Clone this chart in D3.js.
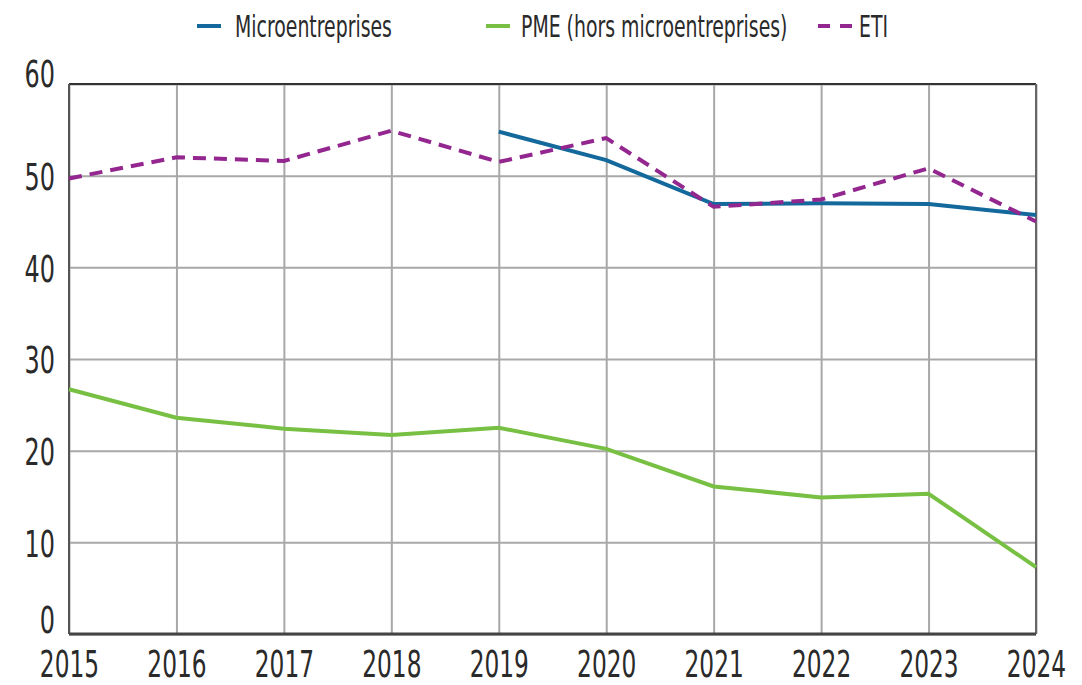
<!DOCTYPE html>
<html lang="fr">
<head>
  <meta charset="UTF-8">
  <title>Graphique</title>
  <script src="https://cdn.jsdelivr.net/npm/d3@7"></script>
  <style>
    body { margin: 0; background: #fff; }
    text { font-family: "DejaVu Sans Condensed", "Liberation Sans Narrow", sans-serif; fill: #2a2a2a; }
  </style>
</head>
<body>
  <div class="canvas"></div>
  <script>
    const years = [2015, 2016, 2017, 2018, 2019, 2020, 2021, 2022, 2023, 2024];
    const yTicks = [0, 10, 20, 30, 40, 50, 60];

    // null = pas de donnée
    const micro = [null, null, null, null, 54.8, 51.7, 46.9, 47.0, 46.9, 45.7];
    const pme = [26.7, 23.6, 22.4, 21.7, 22.5, 20.2, 16.1, 14.9, 15.3, 7.3];
    const eti = [49.7, 52.0, 51.6, 54.9, 51.5, 54.1, 46.6, 47.4, 50.8, 45.0];

    const seriesNames = ['Microentreprises', 'PME (hors microentreprises)', 'ETI'];

    const W = 1082, H = 685;
    const margin = { top: 84, right: 46, bottom: 51, left: 69 };
    const w = W - margin.left - margin.right;
    const h = H - margin.top - margin.bottom;
    const sx = 0.7; // condensation du texte

    const svg = d3.select('.canvas')
      .append('svg')
      .attr('width', W)
      .attr('height', H);

    const g = svg.append('g')
      .attr('transform', `translate(${margin.left}, ${margin.top})`);

    const x = d3.scaleLinear().domain([2015, 2024]).range([0, w]);
    const y = d3.scaleLinear().domain([0, 60]).range([h, 0]);

    // grille verticale + labels années
    const xAxis = g.append('g')
      .attr('transform', `translate(0, ${h})`)
      .call(d3.axisBottom(x).tickValues(years).tickFormat(d3.format('d')).tickSize(-h).tickPadding(16.5));
    xAxis.select('.domain').remove();
    xAxis.selectAll('line').attr('stroke', '#a8a8a8').attr('stroke-width', 2);
    xAxis.selectAll('text')
      .style('font-size', '37px')
      .attr('transform', `scale(${sx},1)`);

    // grille horizontale + labels
    const yAxis = g.append('g')
      .call(d3.axisLeft(y).tickValues(yTicks).tickSize(-w).tickPadding(14));
    yAxis.select('.domain').remove();
    yAxis.selectAll('line').attr('stroke', '#a8a8a8').attr('stroke-width', 2);
    yAxis.selectAll('text')
      .style('font-size', '38px')
      .attr('x', -14 / sx)
      .attr('transform', `scale(${sx},1)`)
      .attr('dy', d => d === 0 ? '-0.03em' : d === 60 ? '0.06em' : '0.36em');

    // cadre
    const frame = [
      { x1: 0, y1: 0, x2: w, y2: 0, c: '#333', sw: 2 },
      { x1: 0, y1: 0, x2: 0, y2: h, c: '#555', sw: 2 },
      { x1: w, y1: 0, x2: w, y2: h, c: '#666', sw: 2 },
      { x1: 0, y1: h, x2: w, y2: h, c: '#444', sw: 3 }
    ];
    g.selectAll('.frame').data(frame).enter().append('line')
      .attr('x1', d => d.x1).attr('y1', d => d.y1)
      .attr('x2', d => d.x2).attr('y2', d => d.y2)
      .attr('stroke', d => d.c).attr('stroke-width', d => d.sw);

    const series = [
      { name: seriesNames[0], values: micro, color: '#13689c', dash: null },
      { name: seriesNames[1], values: pme, color: '#78c043', dash: null },
      { name: seriesNames[2], values: eti, color: '#93278f', dash: '13,8' }
    ];

    const line = d3.line()
      .defined(d => d[1] != null)
      .x(d => x(d[0]))
      .y(d => y(d[1]));

    // ordre de dessin : PME, Micro, ETI (ETI au-dessus)
    [series[1], series[0], series[2]].forEach(s => {
      g.append('path')
        .datum(years.map((yr, i) => [yr, s.values[i]]))
        .attr('fill', 'none')
        .attr('stroke', s.color)
        .attr('stroke-width', 4)
        .attr('stroke-dasharray', s.dash)
        .attr('d', line);
    });

    // légende
    const legendPos = [
      { x: 197, len: 24, tx: 38 },
      { x: 486, len: 24, tx: 35 },
      { x: 818, len: 34, tx: 41 }
    ];
    const legend = svg.append('g');
    series.forEach((s, i) => {
      const p = legendPos[i];
      const lg = legend.append('g').attr('transform', `translate(${p.x}, 26)`);
      lg.append('line')
        .attr('x1', 0).attr('x2', p.len).attr('y1', 0).attr('y2', 0)
        .attr('stroke', s.color).attr('stroke-width', 4)
        .attr('stroke-dasharray', s.dash ? '12,10' : null);
      lg.append('text')
        .attr('transform', `translate(${p.tx}, 0) scale(0.7,1)`)
        .attr('dy', '0.36em')
        .style('font-size', '30px')
        .text(s.name);
    });
  </script>
</body>
</html>
